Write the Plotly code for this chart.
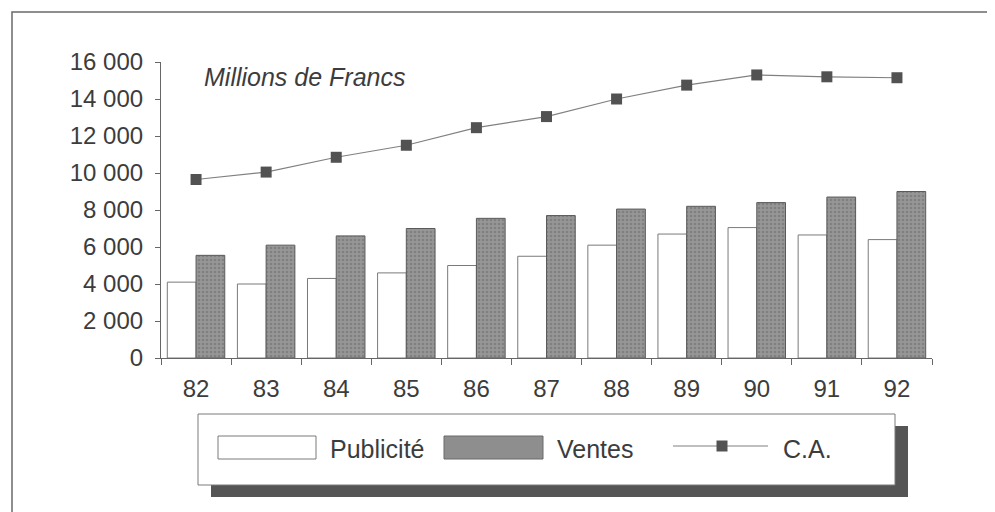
import plotly.graph_objects as go

years = ["82", "83", "84", "85", "86", "87", "88", "89", "90", "91", "92"]
publicite = [4100, 4000, 4300, 4600, 5000, 5500, 6100, 6700, 7050, 6650, 6400]
ventes = [5550, 6100, 6600, 7000, 7550, 7700, 8050, 8200, 8400, 8700, 9000]
ca = [9650, 10050, 10850, 11500, 12450, 13050, 14000, 14750, 15300, 15200, 15150]
y_ticks = [0, 2000, 4000, 6000, 8000, 10000, 12000, 14000, 16000]
y_ticktext = ["0", "2 000", "4 000", "6 000", "8 000", "10 000", "12 000", "14 000", "16 000"]

OFF = 8  # page body margin
W, H = 995 - OFF, 512 - OFF
PL, PR, PT, PB = 161, 932, 62, 358  # plot area in screenshot pixels
L, T = PL - OFF, PT - OFF
R, B = W - (PR - OFF), H - (PB - OFF)
PW, PH = PR - PL, PB - PT
FONT = "Liberation Sans, Arial, Helvetica, sans-serif"
TXT = "#3c3c3c"


def px(x):
    return (x - PL) / PW


def py(y):
    return (PB - y) / PH


fig = go.Figure()
fig.add_trace(go.Bar(
    x=years, y=publicite, name="Publicité",
    marker=dict(color="white", line=dict(color="#7a7a7a", width=1)),
))
fig.add_trace(go.Bar(
    x=years, y=ventes, name="Ventes",
    marker=dict(color="#8e8e8e", line=dict(color="#5a5a5a", width=1),
                pattern=dict(shape=".", bgcolor="#969696", fgcolor="#6a6a6a",
                             size=4, solidity=0.35, fillmode="overlay")),
))
fig.add_trace(go.Scatter(
    x=years, y=ca, name="C.A.", mode="lines+markers",
    line=dict(color="#808080", width=1.2),
    marker=dict(symbol="square", size=11, color="#525252"),
))

shapes = []
# outer frame
shapes.append(dict(type="rect", xref="paper", yref="paper",
                   x0=px(12), x1=px(1010), y0=py(12), y1=py(530),
                   line=dict(color="#6a6a6a", width=1.5), fillcolor="rgba(0,0,0,0)", layer="below"))
# legend shadow and box
shapes.append(dict(type="rect", xref="paper", yref="paper",
                   x0=px(211), x1=px(908), y0=py(426), y1=py(497),
                   line=dict(width=0), fillcolor="#555555"))
shapes.append(dict(type="rect", xref="paper", yref="paper",
                   x0=px(198), x1=px(895), y0=py(414), y1=py(485),
                   line=dict(color="#7a7a7a", width=1), fillcolor="white"))
# legend swatches
shapes.append(dict(type="rect", xref="paper", yref="paper",
                   x0=px(218), x1=px(316), y0=py(436), y1=py(459),
                   line=dict(color="#7a7a7a", width=1), fillcolor="white"))
shapes.append(dict(type="rect", xref="paper", yref="paper",
                   x0=px(444), x1=px(543), y0=py(436), y1=py(459),
                   line=dict(color="#6a6a6a", width=1), fillcolor="#8e8e8e"))
shapes.append(dict(type="line", xref="paper", yref="paper",
                   x0=px(673), x1=px(768), y0=py(446), y1=py(446),
                   line=dict(color="#808080", width=1.2)))
shapes.append(dict(type="rect", xref="paper", yref="paper",
                   x0=px(716.5), x1=px(727.5), y0=py(440.5), y1=py(451.5),
                   line=dict(width=0), fillcolor="#525252"))

annotations = [
    dict(text="<i>Millions de Francs</i>", xref="paper", yref="paper",
         x=px(202), y=py(77), xanchor="left", yanchor="middle", showarrow=False,
         font=dict(family=FONT, size=25, color=TXT)),
    dict(text="Publicité", xref="paper", yref="paper", x=px(328), y=py(449),
         xanchor="left", yanchor="middle", showarrow=False,
         font=dict(family=FONT, size=25, color=TXT)),
    dict(text="Ventes", xref="paper", yref="paper", x=px(555), y=py(449),
         xanchor="left", yanchor="middle", showarrow=False,
         font=dict(family=FONT, size=25, color=TXT)),
    dict(text="C.A.", xref="paper", yref="paper", x=px(781), y=py(449),
         xanchor="left", yanchor="middle", showarrow=False,
         font=dict(family=FONT, size=25, color=TXT)),
]

fig.update_layout(
    width=W, height=H,
    margin=dict(l=L, r=R, t=T, b=B, pad=0),
    paper_bgcolor="white", plot_bgcolor="white",
    showlegend=False,
    barmode="group", bargap=0.18, bargroupgap=0,
    font=dict(family=FONT, size=24, color=TXT),
    shapes=shapes, annotations=annotations,
    xaxis=dict(type="category", range=[-0.5, 10.5], showgrid=False,
               showline=True, linecolor="#666666", linewidth=1.2,
               ticks="outside", tickson="boundaries", ticklen=6, tickcolor="#666666",
               tickfont=dict(family=FONT, size=24, color=TXT), ticklabelstandoff=9),
    yaxis=dict(range=[0, 16000], showgrid=False, zeroline=False,
               showline=True, linecolor="#666666", linewidth=1.2,
               ticks="outside", ticklen=5, tickcolor="#666666",
               tickvals=y_ticks, ticktext=y_ticktext,
               tickfont=dict(family=FONT, size=24, color=TXT), ticklabelstandoff=7),
)

fig.write_html("out.html")
